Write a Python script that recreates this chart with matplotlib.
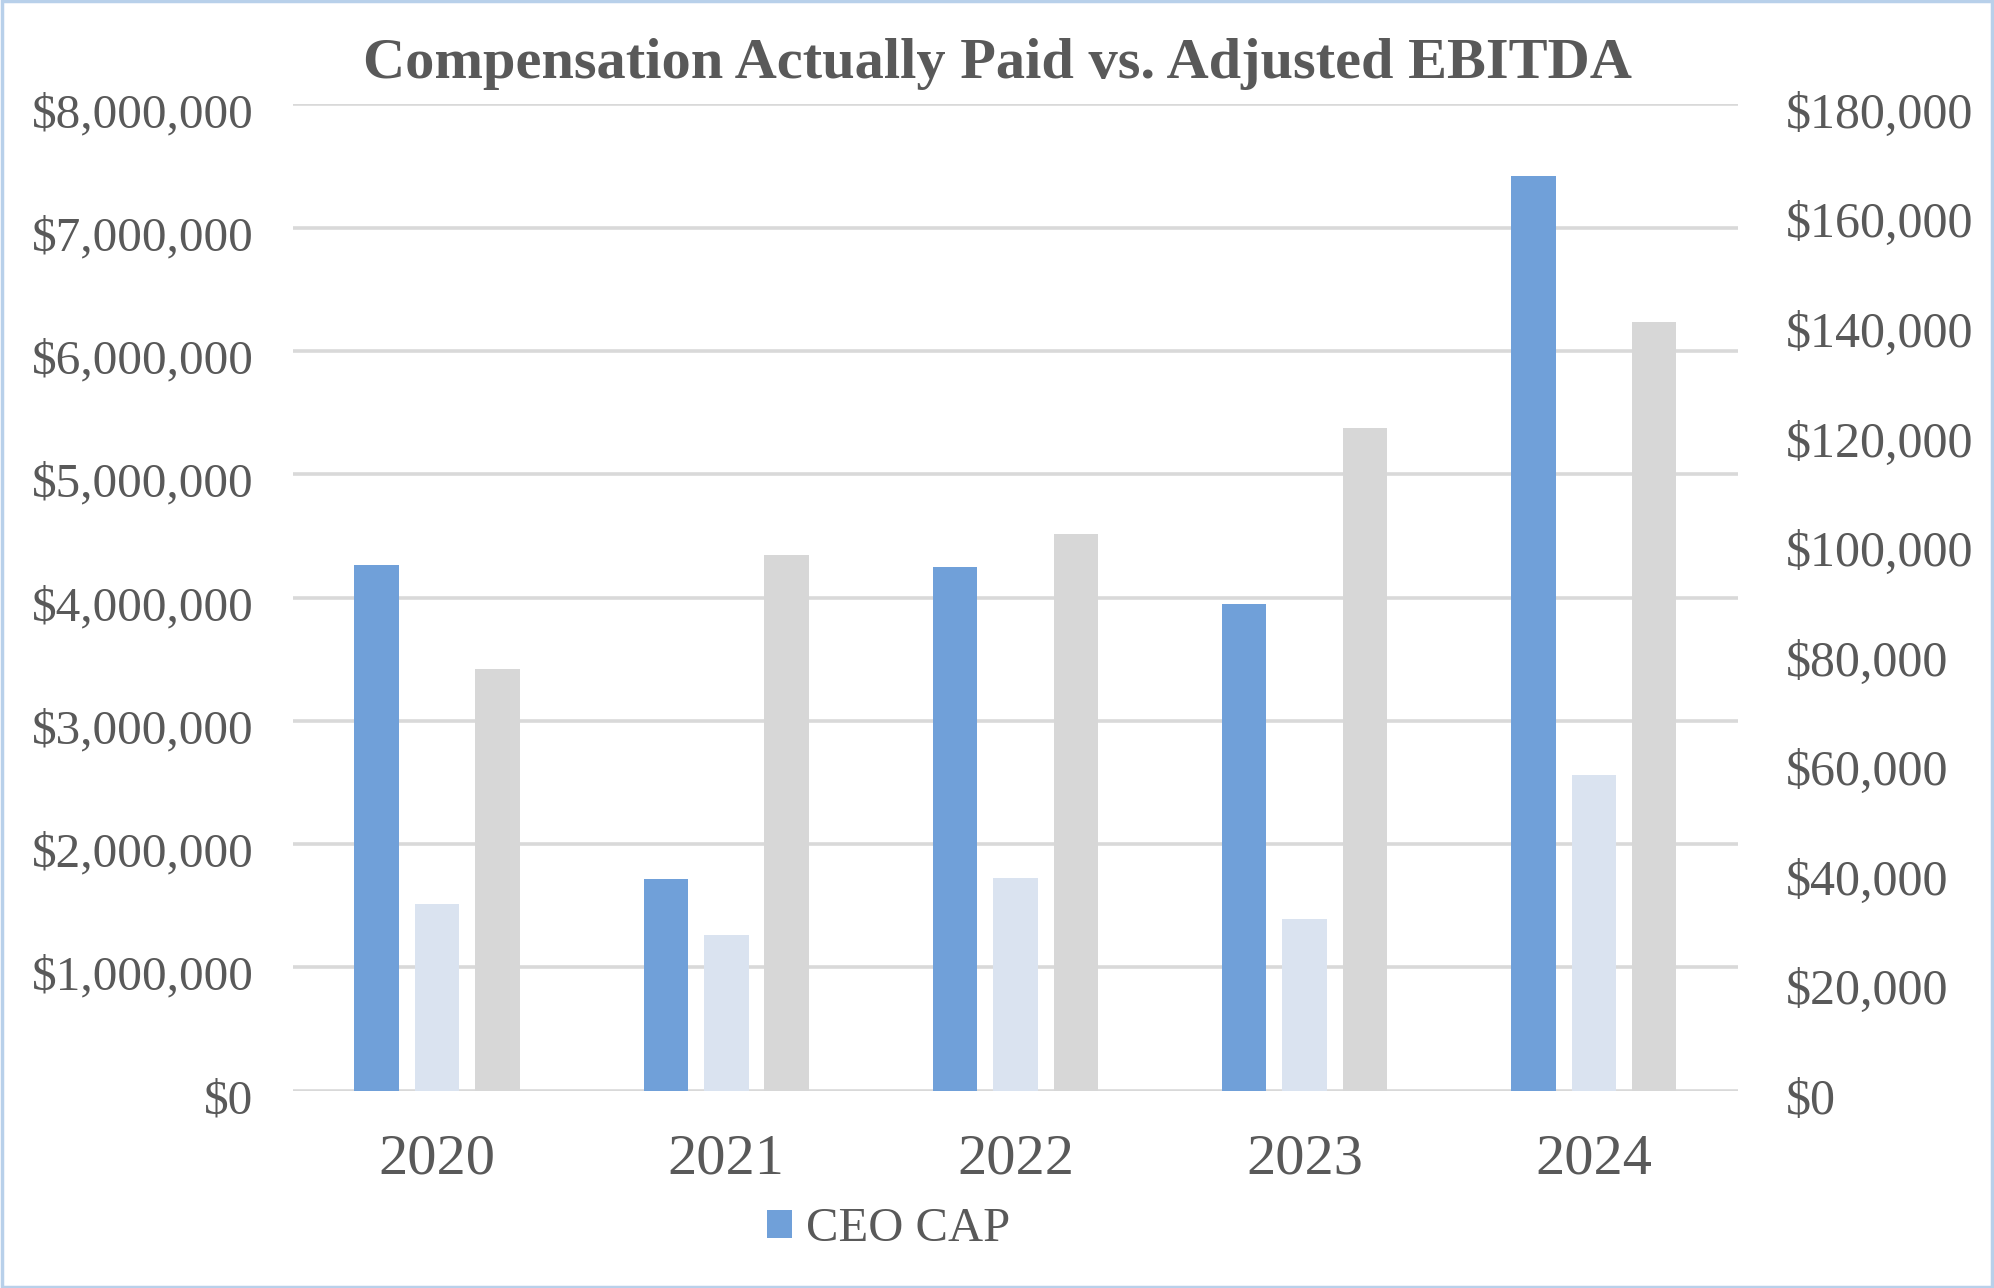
import matplotlib
matplotlib.use("Agg")
import matplotlib.pyplot as plt
import matplotlib.transforms as mtransforms
import numpy as np
from matplotlib.patches import Rectangle
from matplotlib.ticker import FuncFormatter

plt.rcParams['font.family'] = ['Liberation Serif', 'DejaVu Serif']

years = ['2020', '2021', '2022', '2023', '2024']
ceo_cap = [4260000, 1715000, 4250000, 3950000, 7420000]
neo_cap = [1510000, 1260000, 1725000, 1395000, 2560000]
adj_ebitda = [77000, 97700, 101600, 121000, 140300]

blue = '#70A0D9'
light = '#DAE3F0'
gray = '#D7D7D7'
text_color = '#595959'
grid_color = '#D9D9D9'

fig = plt.figure(figsize=(19.94, 12.88), dpi=100)
ax = fig.add_axes([0.1467, 0.1533, 0.7251, 0.7656])
ax2 = ax.twinx()

x = np.arange(len(years))
step = 0.209
w = 0.154

# gridlines behind everything
ax.set_axisbelow(True)
ax.yaxis.grid(True, color=grid_color, linewidth=2.6)
ax2.set_zorder(ax.get_zorder() + 1)
ax2.patch.set_visible(False)

b1 = ax.bar(x - step, ceo_cap, w, color=blue, zorder=3, label='CEO CAP')
ax.bar(x, neo_cap, w, color=light, zorder=3)
ax2.bar(x + step, adj_ebitda, w, color=gray, zorder=3)

ax.set_xlim(-0.5, 4.5)
ax.set_ylim(0, 8000000)
ax2.set_ylim(0, 180000)
ax.set_yticks(np.arange(0, 8000001, 1000000))
ax2.set_yticks(np.arange(0, 180001, 20000))

money = FuncFormatter(lambda v, p: '${:,.0f}'.format(v))
ax.yaxis.set_major_formatter(money)
ax2.yaxis.set_major_formatter(money)

ax.set_xticks(x)
ax.set_xticklabels(years)

for a in (ax, ax2):
    for s in a.spines.values():
        s.set_visible(False)

ax.tick_params(axis='y', length=0, pad=28, labelsize=35.5, labelcolor=text_color)
ax2.tick_params(axis='y', length=0, pad=34, labelsize=36, labelcolor=text_color)
ax.tick_params(axis='x', length=0, pad=31, labelsize=42, labelcolor=text_color)

# y labels sit a little below their gridlines in the original
shift = mtransforms.ScaledTranslation(0, -4 / 72, fig.dpi_scale_trans)
for lab in ax.get_yticklabels() + ax2.get_yticklabels():
    lab.set_transform(lab.get_transform() + shift)

fig.text(0.5, 0.9505, 'Compensation Actually Paid vs. Adjusted EBITDA',
         ha='center', va='center', fontsize=42, fontweight='bold', color=text_color)

leg = fig.legend(handles=[b1], loc='center', bbox_to_anchor=(0.4458, 0.0455),
                 frameon=False, fontsize=35, handlelength=0.5, handleheight=0.5,
                 handletextpad=0.3, labelcolor=text_color)

fig.patches.append(Rectangle((0.001, 0.001), 0.998, 0.998, transform=fig.transFigure,
                             fill=False, edgecolor='#B8D0EA', linewidth=2.5))

fig.savefig('out.png', dpi=100)
